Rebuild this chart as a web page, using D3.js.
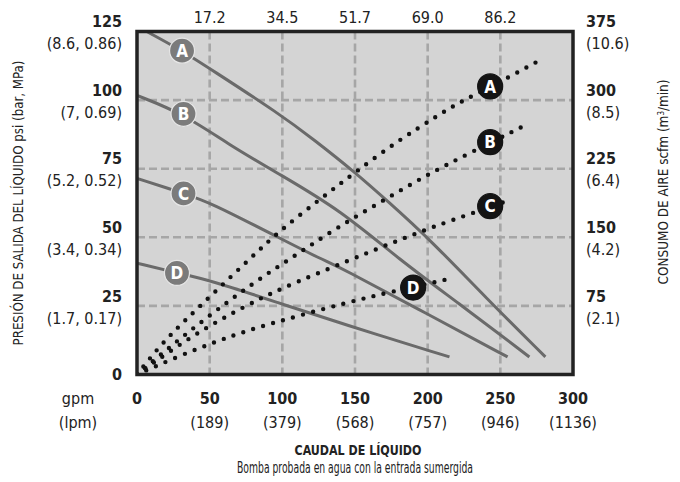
<!DOCTYPE html>
<html lang="es">
<head>
<meta charset="utf-8">
<title>Curva de rendimiento</title>
<script src="https://cdn.jsdelivr.net/npm/d3@7"></script>
<style>
  body { margin: 0; background: #fff; }
  svg text { font-family: "Liberation Sans Narrow", "Arial Narrow", "DejaVu Sans Condensed", sans-serif; fill: #222; }
  .b { font-weight: bold; }
</style>
</head>
<body>
<svg id="chart" width="680" height="482"></svg>
<script>
// caudal (gpm) ticks and labels
var gpmTicks = [0, 50, 100, 150, 200, 250, 300];
var lpmLabels = ["", "(189)", "(379)", "(568)", "(757)", "(946)", "(1136)"];
var topLabels = ["17.2", "34.5", "51.7", "69.0", "86.2"];   // over 50..250 gpm
var psiTicks = [0, 25, 50, 75, 100, 125];
var psiSub = ["", "(1.7, 0.17)", "(3.4, 0.34)", "(5.2, 0.52)", "(7, 0.69)", "(8.6, 0.86)"];
var scfmTicks = [75, 150, 225, 300, 375];
var scfmSub = ["(2.1)", "(4.2)", "(6.4)", "(8.5)", "(10.6)"];

// presion de salida (psi) vs gpm
var presA = [[6.7,125],[31,118],[50,111.5],[98,95],[122,85.5],[150,73.7],[172,63.4],[202,49],[240,28],[281,6.4]];
var presB = [[0,101.7],[32,95],[64,83.5],[98,73],[140,59.9],[181,41.7],[220,26.5],[270,6.4]];
var presC = [[0,71.5],[32,66],[50,62.8],[97,50],[128,41.7],[140,39],[200,22],[255,6.4]];
var presD = [[0,40.6],[27.5,37],[50,34.4],[98,26],[140,18.7],[215,6.4]];

// consumo de aire (scfm) vs gpm
var aireA = [[0,0],[16,32],[31,56],[52,88],[78,127],[98,157],[127,193],[150,221],[180,256],[204,280],[222,298],[243,314],[280,346]];
var aireB = [[0,0],[30,40],[65,83],[94,115],[107,128],[136,159],[167,188],[198,217],[230,243],[269,274]];
var aireC = [[0,0],[40,45],[76,76],[96,92],[149,127],[182,148],[203,161],[230,176],[257,191]];
var aireD = [[0,0],[30,21],[56,37],[76,48],[97,58],[145,79],[174,90],[216,105]];

var curveNames = ["A", "B", "C", "D"];
var presLabelAt = [[31,118],[32,95],[32,66],[27.5,37]];      // gpm, psi
var aireLabelAt = [[243,315],[243,254],[243,184],[190,95]];  // gpm, scfm

var svg = d3.select("#chart");
var x = d3.scaleLinear().domain([0, 300]).range([137, 573]);
var yP = d3.scaleLinear().domain([0, 125]).range([374.5, 31.5]);
var yA = d3.scaleLinear().domain([0, 375]).range([374.5, 31.5]);

svg.append("clipPath").attr("id", "clip").append("rect")
  .attr("x", x(0)).attr("y", yP(125)).attr("width", x(300) - x(0)).attr("height", yP(0) - yP(125));

// plot background
svg.append("rect")
  .attr("x", x(0)).attr("y", yP(125)).attr("width", x(300) - x(0)).attr("height", yP(0) - yP(125))
  .attr("fill", "#d4d4d4");

// grid
var grid = svg.append("g").attr("stroke", "#a6a6a6").attr("stroke-width", 2.6).attr("stroke-dasharray", "8,4");
grid.selectAll(".v").data(gpmTicks.slice(1, 6)).enter().append("line")
  .attr("x1", function(d) { return x(d); }).attr("x2", function(d) { return x(d); })
  .attr("y1", yP(125)).attr("y2", yP(0));
grid.selectAll(".h").data(psiTicks.slice(1, 5)).enter().append("line")
  .attr("y1", function(d) { return yP(d); }).attr("y2", function(d) { return yP(d); })
  .attr("x1", x(0)).attr("x2", x(300));

var plot = svg.append("g").attr("clip-path", "url(#clip)");

// pressure curves
var lineP = d3.line().x(function(d) { return x(d[0]); }).y(function(d) { return yP(d[1]); }).curve(d3.curveBasis);
plot.selectAll(".pres").data([presA, presB, presC, presD]).enter().append("path")
  .attr("d", lineP).attr("fill", "none").attr("stroke", "#6a6a6a").attr("stroke-width", 3);

// air consumption curves (dotted)
var lineA = d3.line().x(function(d) { return x(d[0]); }).y(function(d) { return yA(d[1]); }).curve(d3.curveBasis);
plot.selectAll(".aire").data([aireA, aireB, aireC, aireD]).enter().append("path")
  .attr("d", lineA).attr("fill", "none").attr("stroke", "#111")
  .attr("stroke-width", 4.4).attr("stroke-linecap", "round").attr("stroke-dasharray", "0,10.4");

// curve labels
function badge(pos, yScale, fill, ring) {
  var g = svg.append("g");
  var b = g.selectAll("g").data(pos).enter().append("g")
    .attr("transform", function(d) { return "translate(" + x(d[0]) + "," + yScale(d[1]) + ")"; });
  b.append("circle").attr("r", 12.5).attr("fill", fill).attr("stroke", ring).attr("stroke-width", 1.2);
  b.append("text").attr("class", "b").attr("text-anchor", "middle").attr("dy", "0.36em")
    .style("font-size", "17px").style("fill", "#fff")
    .text(function(d, i) { return curveNames[i]; });
}
badge(presLabelAt, yP, "#7b7b7b", "#e6e6e6");
badge(aireLabelAt, yA, "#141414", "#141414");

// frame
svg.append("rect")
  .attr("x", x(0)).attr("y", yP(125)).attr("width", x(300) - x(0)).attr("height", yP(0) - yP(125))
  .attr("fill", "none").attr("stroke", "#222").attr("stroke-width", 3.5);

// left axis labels
var left = svg.append("g").attr("text-anchor", "end");
left.selectAll(".n").data(psiTicks).enter().append("text").attr("class", "b")
  .attr("x", 122).attr("y", function(d) { return yP(d) + (d === 0 ? 0 : -10); }).attr("dy", "0.36em")
  .style("font-size", "16px").text(function(d) { return d; });
left.selectAll(".s").data(psiTicks).enter().append("text")
  .attr("x", 122).attr("y", function(d) { return yP(d) + 12; }).attr("dy", "0.36em")
  .style("font-size", "16px").text(function(d, i) { return psiSub[i]; });

// right axis labels
var right = svg.append("g").attr("text-anchor", "start");
right.selectAll(".n").data(scfmTicks).enter().append("text").attr("class", "b")
  .attr("x", 586).attr("y", function(d) { return yA(d) - 10; }).attr("dy", "0.36em")
  .style("font-size", "16px").text(function(d) { return d; });
right.selectAll(".s").data(scfmTicks).enter().append("text")
  .attr("x", 586).attr("y", function(d) { return yA(d) + 12; }).attr("dy", "0.36em")
  .style("font-size", "16px").text(function(d, i) { return scfmSub[i]; });

// top labels
svg.append("g").attr("text-anchor", "middle").selectAll("text").data(gpmTicks.slice(1, 6)).enter().append("text")
  .attr("x", function(d) { return x(d); }).attr("y", 17).attr("dy", "0.36em")
  .style("font-size", "16px").text(function(d, i) { return topLabels[i]; });

// bottom labels
var bottom = svg.append("g").attr("text-anchor", "middle");
bottom.selectAll(".n").data(gpmTicks).enter().append("text").attr("class", "b")
  .attr("x", function(d) { return x(d); }).attr("y", 398).attr("dy", "0.36em")
  .style("font-size", "16px").text(function(d) { return d; });
bottom.selectAll(".s").data(gpmTicks).enter().append("text")
  .attr("x", function(d) { return x(d); }).attr("y", 422).attr("dy", "0.36em")
  .style("font-size", "16px").text(function(d, i) { return lpmLabels[i]; });
bottom.append("text").attr("x", 78).attr("y", 398).attr("dy", "0.36em").style("font-size", "16px").text("gpm");
bottom.append("text").attr("x", 78).attr("y", 422).attr("dy", "0.36em").style("font-size", "16px").text("(lpm)");

// titles (squeezed to the narrow face of the original)
svg.append("text").attr("class", "b").attr("text-anchor", "middle").attr("x", 358).attr("y", 450).attr("dy", "0.36em")
  .attr("textLength", 127).attr("lengthAdjust", "spacingAndGlyphs")
  .style("font-size", "14px").text("CAUDAL DE LÍQUIDO");
svg.append("text").attr("text-anchor", "middle").attr("x", 355).attr("y", 468).attr("dy", "0.36em")
  .attr("textLength", 236).attr("lengthAdjust", "spacingAndGlyphs")
  .style("font-size", "15px").text("Bomba probada en agua con la entrada sumergida");
svg.append("text").attr("text-anchor", "middle").attr("transform", "translate(18,203) rotate(-90)").attr("dy", "0.36em")
  .attr("textLength", 285).attr("lengthAdjust", "spacingAndGlyphs")
  .style("font-size", "13.5px").text("PRESIÓN DE SALIDA DEL LÍQUIDO psi (bar, MPa)");
var rt = svg.append("text").attr("text-anchor", "middle").attr("transform", "translate(663,182) rotate(-90)").attr("dy", "0.36em")
  .attr("textLength", 205).attr("lengthAdjust", "spacingAndGlyphs")
  .style("font-size", "13.5px");
rt.append("tspan").text("CONSUMO DE AIRE scfm (m");
rt.append("tspan").attr("baseline-shift", "super").style("font-size", "8px").text("3");
rt.append("tspan").text("/min)");
</script>
</body>
</html>
